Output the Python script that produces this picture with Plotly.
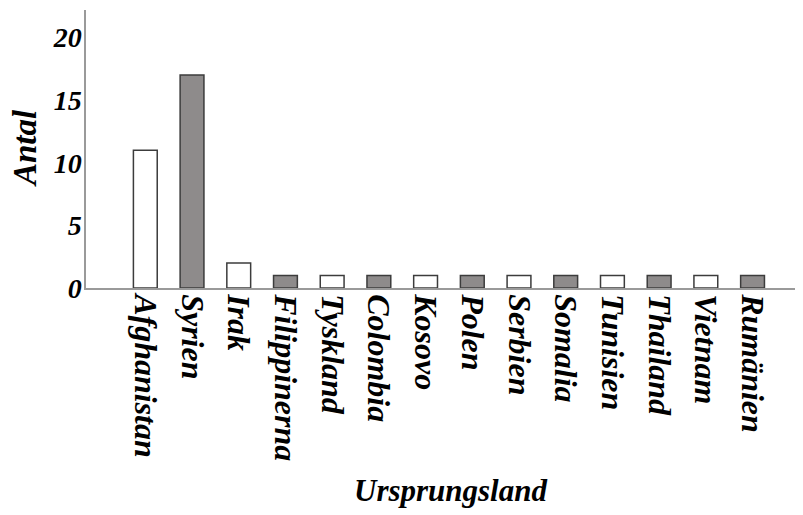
import plotly.graph_objects as go

countries = ["Afghanistan", "Syrien", "Irak", "Filippinerna", "Tyskland", "Colombia",
             "Kosovo", "Polen", "Serbien", "Somalia", "Tunisien", "Thailand", "Vietnam", "Rumänien"]
counts = [11, 17, 2, 1, 1, 1, 1, 1, 1, 1, 1, 1, 1, 1]
y_ticks = [0, 5, 10, 15, 20]

fills = ["#ffffff" if i % 2 == 0 else "#8e8b8b" for i in range(len(countries))]

font_family = "Liberation Serif, Times New Roman, serif"

# page body has an 8px default margin; figure is sized/offset to compensate
W, H = 795, 507
L, T, B = 78, 2, 227

fig = go.Figure()
fig.add_trace(go.Bar(
    x=list(range(len(countries))),
    y=counts,
    width=0.51,
    marker=dict(color=fills, line=dict(color="#3c3c3c", width=1.5)),
    showlegend=False,
))

plot_w = W - L
plot_h = H - T - B

fig.update_layout(
    width=W, height=H,
    margin=dict(l=L, r=0, t=T, b=B, autoexpand=False),
    paper_bgcolor="white", plot_bgcolor="white",
    font=dict(family=font_family, color="black"),
    xaxis=dict(
        range=[-1.27, 14.08],
        tickmode="array",
        tickvals=list(range(len(countries))),
        ticktext=[f"<b><i>{c}</i></b>" for c in countries],
        tickangle=90,
        tickfont=dict(size=32, family=font_family),
        showline=True, linecolor="#9a9a9a", linewidth=1.5,
        showgrid=False, zeroline=False, ticks="",
        ticklabelstandoff=-2,
    ),
    yaxis=dict(
        range=[0, 22.2],
        tickmode="array",
        tickvals=y_ticks,
        ticktext=[f"<b><i>{v}</i></b>" for v in y_ticks],
        tickfont=dict(size=28, family=font_family),
        showline=True, linecolor="#9a9a9a", linewidth=1.5,
        showgrid=False, zeroline=False, ticks="",
        ticklabelstandoff=-3,
    ),
    annotations=[
        dict(text="<b><i>Antal</i></b>", xref="paper", yref="paper",
             x=(25 - 86) / plot_w, y=(288 - 148) / plot_h, xanchor="center", yanchor="middle",
             textangle=-90, showarrow=False, font=dict(size=33, family=font_family)),
        dict(text="<b><i>Ursprungsland</i></b>", xref="paper", yref="paper",
             x=(450 - 86) / plot_w, y=(288 - 490) / plot_h, xanchor="center", yanchor="middle",
             showarrow=False, font=dict(size=31, family=font_family)),
    ],
)

fig.write_html("out.html")
